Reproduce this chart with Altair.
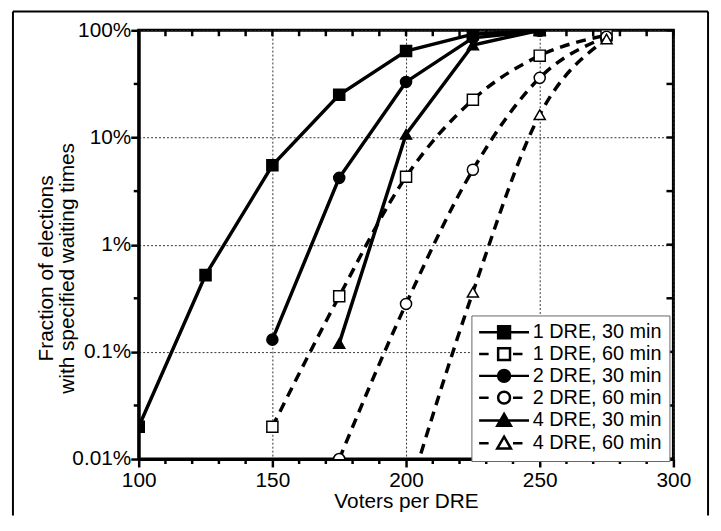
import altair as alt
import pandas as pd

# ---------------- data ----------------
series_names = ["1 DRE, 30 min", "1 DRE, 60 min", "2 DRE, 30 min",
                "2 DRE, 60 min", "4 DRE, 30 min", "4 DRE, 60 min"]

voters_1dre_30 = [100, 125, 150, 175, 200, 225, 250]
pct_1dre_30 = [0.02, 0.52, 5.5, 25, 64, 92, 100]

voters_1dre_60 = [150, 175, 200, 225, 250, 275]
pct_1dre_60 = [0.02, 0.33, 4.3, 22.5, 58, 90]

voters_2dre_30 = [150, 175, 200, 225, 250]
pct_2dre_30 = [0.13, 4.2, 33, 85, 99]

voters_2dre_60 = [175, 200, 225, 250, 275]
pct_2dre_60 = [0.01, 0.28, 5.0, 36, 87]

voters_4dre_30 = [175, 200, 225, 250]
pct_4dre_30 = [0.12, 10.7, 73, 100]

voters_4dre_60 = [200, 225, 250, 275]
pct_4dre_60 = [0.004, 0.36, 16.3, 83]

x_major = [100, 150, 200, 250, 300]
x_minor = [v for v in range(100, 301, 10) if v % 50 != 0]
x_all = list(range(100, 301, 10))
y_major = [0.01, 0.1, 1, 10, 100]
y_minor = [0.0316, 0.316, 3.16, 31.6]
y_all = sorted(y_major + y_minor)

# ---------------- build table ----------------
rows = []
for name, xs, ys in [
    (series_names[0], voters_1dre_30, pct_1dre_30),
    (series_names[1], voters_1dre_60, pct_1dre_60),
    (series_names[2], voters_2dre_30, pct_2dre_30),
    (series_names[3], voters_2dre_60, pct_2dre_60),
    (series_names[4], voters_4dre_30, pct_4dre_30),
    (series_names[5], voters_4dre_60, pct_4dre_60),
]:
    for xv, yv in zip(xs, ys):
        rows.append({"series": name, "voters": xv, "pct": yv,
                     "kind": "long" if "60 min" in name else "short"})
df = pd.DataFrame(rows)
df_solid = df[df["kind"] == "short"]
df_dashed = df[df["kind"] == "long"]

FONT = "Liberation Sans, Arial, Helvetica, sans-serif"

xscale = alt.Scale(domain=[100, 300], nice=False, zero=False)
yscale = alt.Scale(type="log", domain=[0.01, 100], nice=False)

xaxis = alt.Axis(
    values=x_major, orient="bottom", title="Voters per DRE", format="d",
    labelFont=FONT, labelFontSize=21, labelColor="black", labelPadding=3,
    labelFlush=False, labelOverlap=False,
    tickColor="black", tickWidth=2.5, tickSize=8,
    domainColor="black", domainWidth=3,
    grid=True, gridColor="#333333", gridWidth=1, gridDash=[2, 2],
    titleFont=FONT, titleFontSize=21, titleFontWeight="normal", titleColor="black",
    titlePadding=0,
)

yaxis = alt.Axis(
    values=y_major, orient="left",
    title=["Fraction of elections", "with specified waiting times"],
    labelExpr="datum.value + '%'",
    labelFont=FONT, labelFontSize=21, labelColor="black", labelPadding=0,
    labelFlush=False, labelOverlap=False,
    tickColor="black", tickWidth=2.5, tickSize=8,
    domainColor="black", domainWidth=3,
    grid=True, gridColor="#333333", gridWidth=1, gridDash=[2, 2],
    titleFont=FONT, titleFontSize=21, titleFontWeight="normal", titleColor="black",
    titleLineHeight=21, titleX=-83, titleY=240,
)

def X(field="voters"):
    return alt.X(f"{field}:Q", scale=xscale, axis=xaxis)

def Y(field="pct"):
    return alt.Y(f"{field}:Q", scale=yscale, axis=yaxis)

# ---------------- legend with line+marker symbols ----------------
SQ = "M-1,-1H1V1H-1Z"
CI = "M-1,0A1,1,0,1,0,1,0A1,1,0,1,0,-1,0Z"
TR = "M0,-1.1L1.15,0.9L-1.15,0.9Z"
SOLID = "M-4.2,0H4.2"
DASHED = "M-4.2,0H-2.6M1.5,0H3.1"
legend_paths = [SOLID + SQ, DASHED + SQ, SOLID + CI, DASHED + CI, SOLID + TR, DASHED + TR]

fills = ["black", "white", "black", "white", "black", "white"]
strokes = ["black"] * 6

legend = alt.Legend(
    title=None, orient="none", legendX=336, legendY=288, direction="vertical",
    fillColor="white", strokeColor="#666666", padding=7, rowPadding=0,
    labelFont=FONT, labelFontSize=20, labelColor="black",
    labelOffset=19, symbolOffset=16, symbolSize=144,
    symbolStrokeWidth=2.5, symbolOpacity=1,
)

fill_enc = alt.Fill("series:N", scale=alt.Scale(domain=series_names, range=fills), legend=legend)

solid = alt.Chart(df_solid).mark_line(
    color="black", strokeWidth=3.5, clip=True
).encode(X(), Y(), detail="series:N", order="voters:Q")

dashed = alt.Chart(df_dashed).mark_line(
    color="black", strokeWidth=3.5, strokeDash=[10, 7], interpolate="monotone", clip=True
).encode(X(), Y(), detail="series:N", order="voters:Q")

marker_layers = []
for shape, names in [("square", series_names[0:2]),
                     ("circle", series_names[2:4]),
                     ("triangle-up", series_names[4:6])]:
    marker_layers.append(
        alt.Chart(df[df["series"].isin(names)]).mark_point(
            shape=shape, filled=True, size=125, stroke="black", strokeWidth=1.5,
            opacity=1, clip=True
        ).encode(X(), Y(), fill=fill_enc)
    )

# legend-only layer (its data is filtered away): line + marker symbols
legend_layer = alt.Chart(df).transform_filter("datum.voters < 0").mark_point(
    filled=True, strokeWidth=2.5
).encode(
    X(), Y(),
    shape=alt.Shape("series:N", scale=alt.Scale(domain=series_names, range=legend_paths), legend=legend),
    fill=fill_enc,
    stroke=alt.Stroke("series:N", scale=alt.Scale(domain=series_names, range=strokes), legend=legend),
)

# minor outward ticks on bottom/left, inward ticks on top/right
bottom_minor = alt.Chart(pd.DataFrame({"voters": x_minor})).mark_rule(
    color="black", strokeWidth=2.5).encode(x=X(), y=alt.value(433), y2=alt.value(438))
left_minor = alt.Chart(pd.DataFrame({"pct": y_minor})).mark_rule(
    color="black", strokeWidth=2.5).encode(y=Y(), x=alt.value(0), x2=alt.value(-5))
top_ticks = alt.Chart(pd.DataFrame({"voters": x_all})).mark_rule(
    color="black", strokeWidth=2.5).encode(x=X(), y=alt.value(0), y2=alt.value(6))
right_ticks = alt.Chart(pd.DataFrame({"pct": y_all})).mark_rule(
    color="black", strokeWidth=2.5).encode(y=Y(), x=alt.value(540), x2=alt.value(533))

# outer figure frame
one = pd.DataFrame({"k": [0]})
frame_left = alt.Chart(one).mark_rule(color="black", strokeWidth=2).encode(
    x=alt.value(-127), y=alt.value(-19), y2=alt.value(490))
frame_right = alt.Chart(one).mark_rule(color="black", strokeWidth=2).encode(
    x=alt.value(575), y=alt.value(-19), y2=alt.value(490))
frame_top = alt.Chart(one).mark_rule(color="black", strokeWidth=2).encode(
    x=alt.value(-127), x2=alt.value(575), y=alt.value(-19))

chart = alt.layer(
    solid, dashed, *marker_layers, legend_layer,
    bottom_minor, left_minor, top_ticks, right_ticks,
    frame_left, frame_right, frame_top
).properties(
    width=540, height=433,
    autosize=alt.AutoSizeParams(type="none"),
    padding={"left": 132, "top": 20, "right": 40, "bottom": 55},
    background="white",
).configure_view(stroke="black", strokeWidth=3)

chart.save("out.html", embed_options={"renderer": "svg", "actions": False})
